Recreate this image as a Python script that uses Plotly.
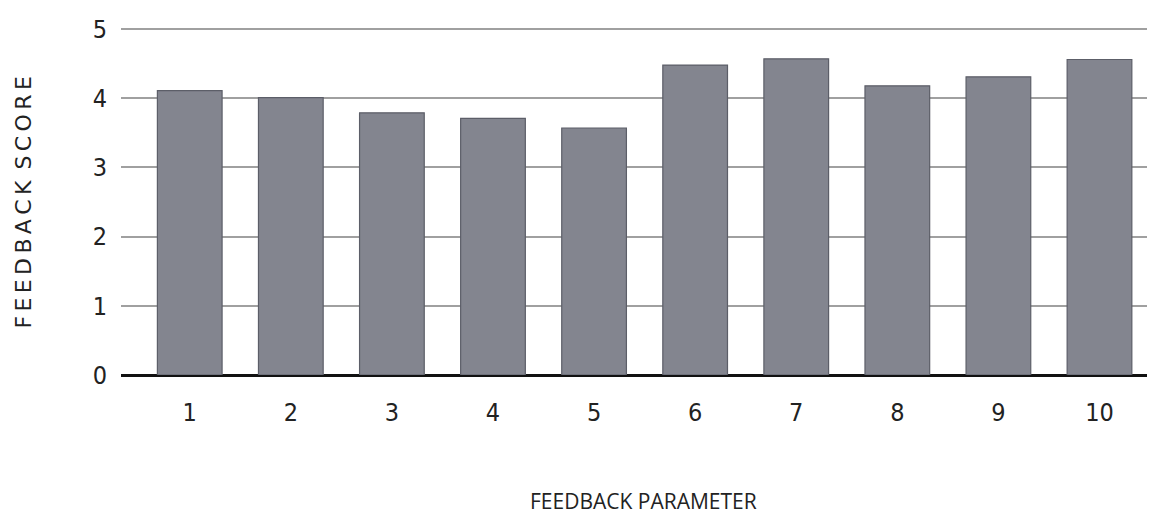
import plotly.graph_objects as go

categories = [1, 2, 3, 4, 5, 6, 7, 8, 9, 10]
scores = [4.11, 4.01, 3.79, 3.71, 3.57, 4.48, 4.57, 4.18, 4.31, 4.56]
y_ticks = [0, 1, 2, 3, 4, 5]

font_fam = "DejaVu Sans Condensed, Open Sans, sans-serif"

fig = go.Figure()
fig.add_trace(go.Bar(
    x=categories, y=scores, width=0.64,
    marker=dict(color="#83858f", line=dict(color="#5c5e68", width=1.2)),
))

fig.update_layout(
    width=1156, height=513,
    margin=dict(l=113, r=17, t=19, b=146, autoexpand=False),
    plot_bgcolor="white", paper_bgcolor="white",
    showlegend=False,
    font=dict(family=font_fam, color="#222"),
    xaxis=dict(
        range=[0.32, 10.47], tickmode="array", tickvals=categories,
        ticktext=[str(c) for c in categories],
        tickfont=dict(size=25, family=font_fam), ticks="", ticklen=0,
        showgrid=False, zeroline=False, showline=False,
        ticklabelstandoff=20, automargin=False,
    ),
    yaxis=dict(
        range=[0, 5.03], tickmode="array", tickvals=y_ticks,
        tickfont=dict(size=25, family=font_fam),
        showgrid=True, gridcolor="#a0a0a0", gridwidth=1.5,
        zeroline=True, zerolinecolor="#111", zerolinewidth=2.5,
        showline=False, ticks="", ticklabelstandoff=13, automargin=False,
    ),
    annotations=[
        dict(text="F\u2009E\u2009E\u2009D\u2009B\u2009A\u2009C\u2009K\u2002S\u2009C\u2009O\u2009R\u2009E",
             xref="paper", yref="paper", x=0, y=0.494, xshift=-97.5,
             xanchor="center", yanchor="middle",
             textangle=-90, showarrow=False,
             font=dict(size=22, family="DejaVu Sans, sans-serif", color="#222")),
        dict(text="FEEDBACK PARAMETER", xref="paper", yref="paper",
             x=0.5097, y=0, yshift=-126, xanchor="center", yanchor="middle", showarrow=False,
             font=dict(size=21, family="Open Sans, sans-serif", color="#222")),
    ],
)

fig.write_html("out.html")
